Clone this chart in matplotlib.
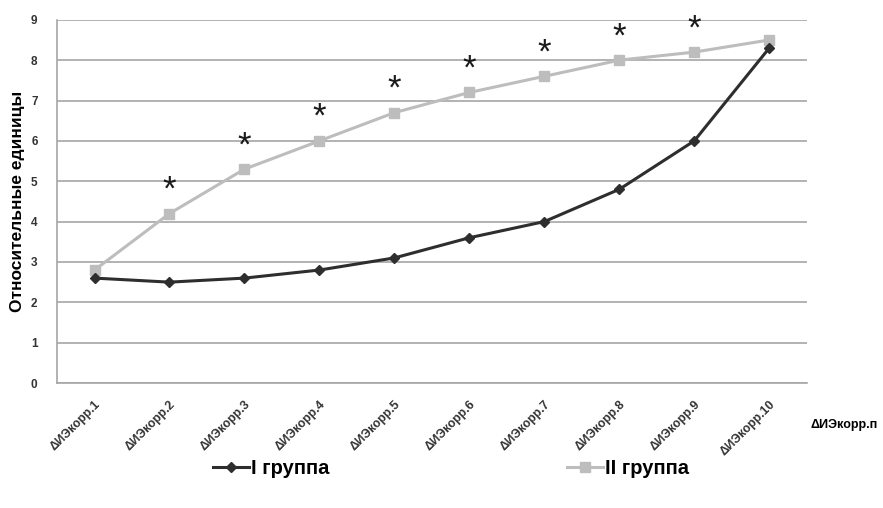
import numpy as np
import matplotlib
matplotlib.use("Agg")
import matplotlib.pyplot as plt
from matplotlib.lines import Line2D

plt.rcParams['font.family'] = ['Liberation Sans', 'DejaVu Sans']

# данные по группам
categories = ["ΔИЭкорр.1", "ΔИЭкорр.2", "ΔИЭкорр.3", "ΔИЭкорр.4", "ΔИЭкорр.5",
              "ΔИЭкорр.6", "ΔИЭкорр.7", "ΔИЭкорр.8", "ΔИЭкорр.9", "ΔИЭкорр.10"]
group1 = [2.6, 2.5, 2.6, 2.8, 3.1, 3.6, 4.0, 4.8, 6.0, 8.3]
group2 = [2.8, 4.2, 5.3, 6.0, 6.7, 7.2, 7.6, 8.0, 8.2, 8.5]
# индексы точек с достоверными различиями (*)
signif = [1, 2, 3, 4, 5, 6, 7, 8]

fig = plt.figure(figsize=(8.83, 5.08), dpi=100)
ax = fig.add_axes([0.0646, 0.246, 0.849, 0.715])

x = np.arange(len(categories))
ax.plot(x, group2, color='#bdbdbd', lw=2.2, marker='s', ms=7, zorder=3)
ax.plot(x, group1, color='#2e2e2e', lw=2.2, marker='D', ms=5, zorder=4)

for i in signif:
    ax.annotate("*", (x[i], group2[i]), xytext=(0, 5), textcoords='offset points',
                ha='center', va='bottom', fontsize=25, color='#1a1a1a')

ax.set_xlim(-0.5, len(categories) - 0.5)
ax.set_ylim(0, 9)
ax.set_yticks(range(0, 10))
ax.yaxis.grid(True, color='#a6a6a6', lw=1.2)
ax.set_axisbelow(True)
for s in ['top', 'right']:
    ax.spines[s].set_visible(False)
ax.spines['left'].set_color('#a6a6a6')
ax.spines['bottom'].set_color('#a6a6a6')
ax.spines['left'].set_linewidth(1.2)
ax.spines['bottom'].set_linewidth(1.2)
ax.tick_params(length=0, labelsize=8.5, labelcolor='#333333')
ax.tick_params(axis='y', pad=14)
for lbl in ax.get_yticklabels():
    lbl.set_fontweight('bold')
ax.set_xticks(x)
ax.set_xticklabels(categories, rotation=45, ha='right', rotation_mode='anchor',
                   fontsize=8.8, fontweight='bold')
ax.tick_params(axis='x', pad=11)
ax.set_ylabel("Относительные единицы", fontsize=12.5, fontweight='bold', labelpad=4)

fig.text(0.956, 0.163, "ΔИЭкорр.п", fontsize=9, fontweight='bold',
         ha='center', va='center')

handles = [Line2D([], [], color='#2e2e2e', lw=2.2, marker='D', ms=5),
           Line2D([], [], color='#bdbdbd', lw=2.2, marker='s', ms=7)]
fig.legend(handles, ["I группа", "II группа"], loc='center', ncol=2,
           bbox_to_anchor=(0.511, 0.078), frameon=False, columnspacing=11.8,
           handlelength=1.8, handletextpad=0.1,
           prop={'size': 14.5, 'weight': 'bold'})

fig.savefig("out.png", dpi=100)
